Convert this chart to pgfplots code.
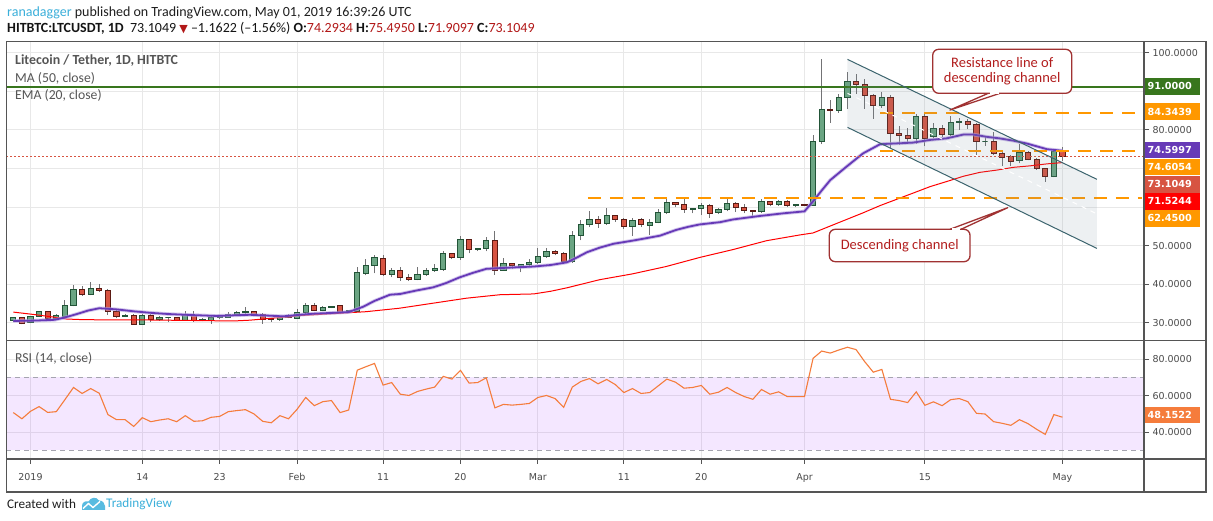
\documentclass[border=0pt]{standalone}
\usepackage{fontspec}
\setmainfont{Carlito}
\newfontfamily\numfont{DejaVu Sans}
\newfontfamily\symfont{DejaVu Sans}
\usepackage{pgfplots}
\pgfplotsset{compat=1.18}
\usepackage{pgfplotstable}

\definecolor{upfill}{RGB}{107,165,131}
\definecolor{upline}{RGB}{34,84,55}
\definecolor{dnfill}{RGB}{215,84,66}
\definecolor{dnline}{RGB}{91,26,19}
\definecolor{wick}{RGB}{115,115,117}
\definecolor{gridc}{RGB}{232,232,232}
\definecolor{framec}{RGB}{85,85,85}
\definecolor{emac}{RGB}{103,58,183}
\definecolor{emahalo}{RGB}{180,160,225}
\definecolor{mac}{RGB}{255,0,0}
\definecolor{hgreen}{RGB}{56,118,29}
\definecolor{dorange}{RGB}{255,152,0}
\definecolor{lastc}{RGB}{215,84,66}
\definecolor{rsic}{RGB}{245,124,60}
\definecolor{band}{RGB}{153,21,255}
\definecolor{chan}{RGB}{60,100,110}
\definecolor{chanfill}{RGB}{120,144,156}
\definecolor{callc}{RGB}{160,50,50}
\definecolor{calltext}{RGB}{178,30,30}
\definecolor{tvblue}{RGB}{59,175,218}
\definecolor{txtgray}{RGB}{74,74,74}
\definecolor{leggray}{RGB}{85,85,85}
\definecolor{hdrred}{RGB}{178,24,24}
\definecolor{dashgray}{RGB}{165,165,175}

\newcommand{\legfont}{\fontsize{13.7}{15}\selectfont}
\newcommand{\callfont}{\fontsize{14.5}{15}\selectfont}
\newcommand{\boxfont}{\numfont\bfseries\fontsize{9.7}{12}\selectfont}
\newcommand{\tickfont}{\numfont\fontsize{9.5}{12}\selectfont}

\newcommand{\valbox}[3]{\fill[#1] (1144.5,{521-#2-8.3}) rectangle (1199.5,{521-#2+8.3});
  \node[anchor=west,inner sep=0,text=white,font=\boxfont] at (1147.5,{521-#2}) {#3};}

\pgfplotstableread{
k O H L C
0 30.5 31.6 30.3 31.3
1 31.3 31.4 29.6 29.9
2 30.0 31.8 29.9 31.6
3 31.6 33.2 31.5 32.9
4 32.9 33.0 31.0 31.2
5 31.2 32.3 31.0 31.9
6 31.7 36.0 31.5 34.4
7 34.4 39.9 34.3 38.6
8 38.6 39.5 37.0 37.3
9 37.3 40.7 37.1 38.8
10 38.8 40.0 38.0 38.3
11 38.3 38.8 32.0 32.9
12 32.9 33.5 31.2 31.6
13 31.6 32.3 31.5 31.8
14 31.8 32.3 29.6 29.7
15 29.7 32.4 29.5 31.8
16 31.8 32.2 30.3 30.8
17 30.8 31.8 30.5 31.3
18 31.3 31.5 30.2 31.3
19 31.3 31.5 30.5 30.7
20 30.7 33.0 30.5 32.1
21 32.0 33.2 30.3 30.5
22 30.6 31.3 30.4 31.0
23 30.7 31.8 29.8 31.4
24 31.3 32.0 31.1 31.8
25 31.5 32.8 31.3 32.3
26 32.2 33.1 32.0 32.7
27 32.6 34.0 32.4 32.9
28 32.9 33.2 31.8 32.0
29 32.1 32.5 29.8 30.8
30 31.1 31.3 30.2 30.8
31 30.8 31.9 30.5 31.6
32 31.6 32.3 31.2 31.4
33 31.2 33.6 31.0 32.6
34 32.6 35.2 32.3 34.4
35 34.4 35.2 33.0 33.3
36 33.3 34.5 33.0 34.1
37 34.0 34.4 33.8 34.2
38 34.4 34.6 32.4 32.6
39 32.7 33.4 32.5 33.2
40 33.0 44.6 32.8 43.0
41 42.9 46.6 42.3 44.8
42 44.8 47.6 42.8 46.9
43 46.7 47.5 42.1 42.6
44 42.6 44.3 41.8 43.7
45 43.7 44.6 40.9 41.7
46 41.7 42.7 40.8 41.2
47 41.2 44.6 41.0 42.5
48 42.5 44.3 42.2 43.6
49 43.6 45.2 43.2 44.1
50 43.9 48.6 43.5 47.9
51 47.9 48.2 46.5 47.0
52 47.0 52.6 46.4 51.5
53 51.5 51.6 48.0 48.9
54 48.9 49.4 48.6 49.2
55 49.2 52.3 48.5 51.3
56 51.3 53.7 42.5 43.7
57 43.7 46.9 43.5 45.3
58 45.3 45.5 44.0 44.8
59 44.7 45.3 43.1 45.0
60 45.0 46.6 44.8 45.6
61 45.6 49.3 45.3 47.1
62 47.1 49.5 46.9 48.5
63 48.5 48.9 47.5 48.0
64 48.0 48.3 45.3 45.8
65 45.8 53.9 45.6 52.6
66 52.6 56.7 51.4 55.4
67 55.4 59.0 54.8 56.7
68 56.7 57.7 54.6 55.7
69 55.7 59.7 55.4 57.8
70 57.8 58.0 56.2 56.7
71 56.7 57.3 54.3 54.9
72 54.9 57.1 52.5 56.4
73 56.7 57.3 54.8 55.4
74 55.2 57.0 52.9 56.0
75 56.0 59.5 55.8 58.5
76 58.5 62.0 58.2 61.1
77 61.1 61.3 59.9 60.6
78 60.6 62.7 58.5 59.3
79 59.3 59.8 58.4 59.6
80 59.6 61.0 57.9 60.4
81 60.4 60.8 57.2 58.4
82 58.5 59.8 58.2 59.3
83 59.3 62.0 58.9 60.9
84 60.9 61.2 58.7 59.8
85 59.8 60.9 58.4 59.0
86 59.0 59.2 57.3 58.8
87 58.8 62.0 58.5 61.4
88 61.4 61.6 60.2 60.6
89 60.6 61.8 60.3 61.4
90 61.4 61.8 59.9 60.3
91 60.3 60.9 60.0 60.6
92 60.6 60.7 60.2 60.5
93 60.5 78.8 60.3 77.1
94 77.1 98.4 76.3 85.4
95 85.4 87.8 81.9 84.9
96 84.9 89.3 84.5 88.4
97 88.4 95.0 85.5 92.6
98 92.6 94.5 89.3 91.8
99 91.8 93.1 85.5 88.9
100 88.8 89.3 82.9 86.3
101 86.3 89.9 85.8 88.4
102 88.4 89.0 75.2 79.1
103 79.1 80.9 76.2 78.6
104 78.6 80.5 76.6 77.7
105 77.7 84.2 76.3 83.5
106 83.5 84.6 75.7 77.7
107 78.2 81.7 77.9 80.4
108 80.4 81.2 78.2 78.8
109 78.8 83.6 78.5 82.0
110 82.0 83.0 80.0 82.2
111 82.2 82.8 80.2 81.5
112 81.5 81.8 73.5 76.9
113 76.9 78.5 75.9 76.9
114 76.9 79.4 73.5 73.9
115 73.9 74.6 70.6 72.9
116 73.1 73.5 70.6 71.7
117 72.1 76.4 71.3 74.2
118 74.1 74.6 72.1 72.4
119 72.4 72.7 69.7 70.0
120 70.0 70.1 66.6 67.9
121 67.9 74.7 67.7 74.4
122 74.2934 75.4950 71.9097 73.1049
}\candles

\begin{document}
\begin{tikzpicture}
\useasboundingbox (0pt,0pt) rectangle (1213pt,521pt);
\fill[white] (0pt,0pt) rectangle (1213pt,521pt);

% ---------------- price panel ----------------
\begin{axis}[
  at={(6.3pt,479.3pt)}, anchor=north west, scale only axis,
  width=1137.7pt, height=299pt,
  xmin=-0.814, xmax=131.48, ymin=25.39, ymax=102.85,
  axis line style={draw=none},
  xtick={2,15,24,33,43,52,61,71,80,92,106,122}, xticklabels={},
  xtick style={draw=none},
  ytick={30,40,50,60,70,80,90,100},
  yticklabels={30.0000,40.0000,50.0000,{},{},80.0000,{},100.0000},
  ytick pos=right, yticklabel pos=right, tick align=outside, major tick length=5pt,
  ytick style={draw=framec, line width=1pt},
  grid=major, major grid style={draw=gridc, line width=1pt},
  yticklabel style={font=\tickfont, text=txtgray},
]
% candles
\pgfplotsinvokeforeach{0,...,122}{%
  \pgfplotstablegetelem{#1}{O}\of\candles\edef\cO{\pgfplotsretval}%
  \pgfplotstablegetelem{#1}{H}\of\candles\edef\cH{\pgfplotsretval}%
  \pgfplotstablegetelem{#1}{L}\of\candles\edef\cL{\pgfplotsretval}%
  \pgfplotstablegetelem{#1}{C}\of\candles\edef\cC{\pgfplotsretval}%
  \pgfmathsetmacro\xa{#1-0.31}%
  \pgfmathsetmacro\xb{#1+0.31}%
  \ifdim\cC pt<\cO pt\def\cf{dnfill}\def\cl{dnline}\else\def\cf{upfill}\def\cl{upline}\fi
  \edef\temp{\noexpand\addplot[draw=wick, line width=1pt, forget plot] coordinates {(#1,\cL) (#1,\cH)};%
    \noexpand\addplot[fill=\cf, draw=\cl, line width=1pt, forget plot] coordinates {(\xa,\cO) (\xb,\cO) (\xb,\cC) (\xa,\cC)} --cycle;}%
  \temp
}

% MA (red)
\addplot[mac, line width=1pt, forget plot] coordinates {
(0,32.8) (2.3,32.2) (4.7,31.5) (6.2,31.0) (8,30.85) (10,30.8) (14,30.8) (17.8,30.7) (21.7,30.6) (25.6,30.5) (27.5,30.7) (29.5,31.1) (31.5,31.5) (33.3,31.9) (37.2,32.4) (41,32.9) (44.9,33.8) (48.8,35.1) (52.7,36.4) (56.6,37.3) (60.5,37.5) (62.5,38.2) (64.4,39.1) (68.2,41.2) (72,42.7) (75.9,44.6) (79.9,47.0) (83.7,49.0) (87.6,51.3) (91.5,52.8) (93,53.3) (95,55.1) (96.9,56.8) (98.8,58.5) (100.8,60.4) (102.7,62.0) (104.6,63.6) (106.6,65.3) (108.5,66.6) (110.5,68.0) (112.4,69.0) (114.4,69.6) (116.3,70.3) (118.3,70.7) (120.2,71.2) (122,71.5244)};
% EMA (purple)
\addplot[emahalo, line width=3.6pt, opacity=0.6, forget plot] coordinates {
(0,30.5) (2.5,30.6) (4.8,30.8) (6,31.4) (7.4,32.3) (8.7,33.2) (10,33.8) (12,33.5) (14,33.0) (16,32.6) (18,32.3) (20,32.1) (23.6,31.8) (27.5,32.1) (31.4,31.7) (33.3,32.1) (35,32.4) (37.2,32.6) (39,32.8) (40.7,34.2) (42,35.7) (43.8,37.3) (45,37.5) (46.9,38.4) (48.8,39.2) (50.3,40.3) (51.9,41.8) (53.5,43.0) (55,44.0) (56.6,44.2) (58.5,44.4) (60.5,44.6) (62.5,45.0) (64.4,45.7) (65.5,46.9) (66.7,48.3) (68.2,49.5) (69.8,50.5) (72,51.3) (73.5,51.9) (75.2,52.6) (77.1,54.1) (78.5,54.9) (79.8,55.5) (82.2,56.1) (83.7,56.8) (86.8,57.7) (89.6,58.4) (92,58.9) (93,61.5) (94,64.3) (95,67.0) (96.9,70.5) (98.8,73.9) (100.8,76.3) (102.7,76.5) (104.6,76.7) (106.6,77.4) (108.5,77.8) (110.5,78.8) (111.6,78.8) (113.2,78.2) (114.7,77.8) (116.3,77.2) (117.8,76.5) (119.4,75.5) (120.2,75.0) (122,74.5997)};
\addplot[emac, line width=1.8pt, forget plot] coordinates {
(0,30.5) (2.5,30.6) (4.8,30.8) (6,31.4) (7.4,32.3) (8.7,33.2) (10,33.8) (12,33.5) (14,33.0) (16,32.6) (18,32.3) (20,32.1) (23.6,31.8) (27.5,32.1) (31.4,31.7) (33.3,32.1) (35,32.4) (37.2,32.6) (39,32.8) (40.7,34.2) (42,35.7) (43.8,37.3) (45,37.5) (46.9,38.4) (48.8,39.2) (50.3,40.3) (51.9,41.8) (53.5,43.0) (55,44.0) (56.6,44.2) (58.5,44.4) (60.5,44.6) (62.5,45.0) (64.4,45.7) (65.5,46.9) (66.7,48.3) (68.2,49.5) (69.8,50.5) (72,51.3) (73.5,51.9) (75.2,52.6) (77.1,54.1) (78.5,54.9) (79.8,55.5) (82.2,56.1) (83.7,56.8) (86.8,57.7) (89.6,58.4) (92,58.9) (93,61.5) (94,64.3) (95,67.0) (96.9,70.5) (98.8,73.9) (100.8,76.3) (102.7,76.5) (104.6,76.7) (106.6,77.4) (108.5,77.8) (110.5,78.8) (111.6,78.8) (113.2,78.2) (114.7,77.8) (116.3,77.2) (117.8,76.5) (119.4,75.5) (120.2,75.0) (122,74.5997)};

% horizontal levels
\addplot[hgreen, line width=2pt, forget plot] coordinates {(-0.814,91) (131.48,91)};
\addplot[dorange, line width=2pt, dash pattern=on 13pt off 9pt, forget plot] coordinates {(100.8,84.3439) (130.5,84.3439)};
\addplot[dorange, line width=2pt, dash pattern=on 13pt off 9pt, forget plot] coordinates {(100.8,74.6054) (130.5,74.6054)};
\addplot[dorange, line width=2pt, dash pattern=on 13pt off 9pt, forget plot] coordinates {(66.8,62.45) (131.2,62.45)};
\addplot[lastc, line width=1pt, dash pattern=on 2pt off 2pt, forget plot] coordinates {(-0.814,73.1049) (131.48,73.1049)};

% descending channel
\addplot[draw=none, fill=chanfill, fill opacity=0.13, forget plot] coordinates {(97,98.27) (126,67.2) (126,49.3) (97,80.66)} --cycle;
\addplot[chan, line width=1pt, forget plot] coordinates {(97,98.27) (126,67.2)};
\addplot[chan, line width=1pt, forget plot] coordinates {(97,80.66) (126,49.3)};
\addplot[white, line width=1pt, dash pattern=on 5pt off 5pt, forget plot] coordinates {(97,89.47) (126,58.25)};
\end{axis}

% ---------------- RSI panel ----------------
\begin{axis}[
  at={(6.3pt,180.3pt)}, anchor=north west, scale only axis,
  width=1137.7pt, height=118.3pt,
  xmin=-0.814, xmax=131.48, ymin=25.2, ymax=90.2,
  axis line style={draw=none},
  xtick={2,15,24,33,43,52,61,71,80,92,106,122},
  xticklabels={2019,14,23,Feb,11,20,Mar,11,20,Apr,15,May},
  xtick pos=bottom,
  ytick={40,60,80}, yticklabels={40.0000,60.0000,80.0000},
  ytick pos=right, yticklabel pos=right, tick align=outside, major tick length=5pt,
  tick style={draw=framec, line width=1pt},
  grid=major, major grid style={draw=gridc, line width=1pt},
  yticklabel style={font=\tickfont, text=txtgray},
  xticklabel style={font=\tickfont, text=txtgray, yshift=-6pt},
]
\addplot[draw=none, fill=band, fill opacity=0.1, forget plot] coordinates {(-0.814,30) (131.48,30) (131.48,70) (-0.814,70)} --cycle;
\addplot[dashgray, line width=1pt, dash pattern=on 5pt off 4pt, forget plot] coordinates {(-0.814,70) (131.48,70)};
\addplot[dashgray, line width=1pt, dash pattern=on 5pt off 4pt, forget plot] coordinates {(-0.814,30) (131.48,30)};
\addplot[rsic, line width=1.1pt, forget plot] coordinates {
(0,50.7) (1,47.3) (2,51.4) (3,54.0) (4,50.8) (5,51.2) (6,57.8) (7,64.5) (8,61.2) (9,63.9)
(10,61.3) (11,49.6) (12,46.8) (13,46.8) (14,43.1) (15,47.9) (16,45.7) (17,46.6) (18,47.3) (19,45.7)
(20,49.0) (21,45.9) (22,46.2) (23,48.1) (24,48.6) (25,51.2) (26,51.8) (27,52.3) (28,49.9) (29,45.9)
(30,45.1) (31,49.0) (32,47.3) (33,52.5) (34,59.0) (35,54.5) (36,56.7) (37,57.3) (38,50.7) (39,52.1)
(40,74.0) (41,75.9) (42,77.7) (43,65.8) (44,67.2) (45,60.8) (46,60.1) (47,62.3) (48,63.6) (49,64.7)
(50,70.6) (51,69.1) (52,73.9) (53,66.9) (54,67.2) (55,69.8) (56,53.3) (57,55.2) (58,54.8) (59,55.2)
(60,55.7) (61,59.0) (62,60.1) (63,58.4) (64,53.6) (65,64.7) (66,67.8) (67,69.4) (68,66.5) (69,68.9)
(70,66.1) (71,61.7) (72,63.9) (73,61.2) (74,61.7) (75,65.4) (76,69.1) (77,67.4) (78,64.1) (79,64.5)
(80,65.6) (81,60.8) (82,61.9) (83,64.5) (84,61.7) (85,59.5) (86,58.0) (87,63.4) (88,60.8) (89,62.1)
(90,59.5) (91,59.5) (92,59.5) (93,80.5) (94,84.5) (95,83.4) (96,85.1) (97,86.6) (98,85.3) (99,78.7)
(100,72.9) (101,74.4) (102,58.0) (103,57.3) (104,56.2) (105,62.1) (106,54.7) (107,56.6) (108,54.5) (109,57.8)
(110,58.4) (111,56.7) (112,50.3) (113,49.9) (114,45.7) (115,44.8) (116,43.7) (117,46.8) (118,44.6) (119,41.5)
(120,38.7) (121,49.6) (122,48.1522)};
\end{axis}

\begin{scope}[x=1pt,y=1pt]
% ---------------- frame ----------------
\draw[framec, line width=1.2pt] (6.3,29) rectangle (1206,479.3);
\draw[framec, line width=1.2pt] (6.3,180.3) -- (1206,180.3);
\draw[framec, line width=1.2pt] (6.3,62) -- (1206,62);
\draw[framec, line width=1.2pt] (1144,29) -- (1144,479.3);

% ---------------- value boxes ----------------
\valbox{hgreen}{86.3}{91.0000}
\valbox{dorange}{111.7}{84.3439}
\valbox{emac}{150}{74.5997}
\valbox{dorange}{167}{74.6054}
\valbox{lastc}{184.3}{73.1049}
\valbox{mac}{201.3}{71.5244}
\valbox{dorange}{218.3}{62.4500}
\valbox{rsic}{415}{48.1522}

% ---------------- callouts ----------------
\filldraw[fill=white, draw=callc, line width=1.3pt, line join=round] (988.3,427.7) -- (950,411) -- (1000,427.7);
\filldraw[fill=white, draw=callc, line width=1.3pt, rounded corners=6pt] (932.7,427.7) rectangle (1071.7,471.7);
\draw[white, line width=1.7pt] (989.8,427.7) -- (998.5,427.7);
\node[align=center, text=calltext, font=\callfont, inner sep=0] at (1002.2,449.7) {Resistance line of\\descending channel};

\filldraw[fill=white, draw=callc, line width=1.3pt, line join=round] (950,291.7) -- (1007.7,313.3) -- (961,291.7);
\filldraw[fill=white, draw=callc, line width=1.3pt, rounded corners=6pt] (829.3,259.3) rectangle (970,291.7);
\draw[white, line width=1.7pt] (951.5,291.7) -- (959.5,291.7);
\node[text=calltext, font=\callfont, inner sep=0] at (899.7,275.5) {Descending channel};

% ---------------- legend texts ----------------
\node[anchor=west, inner sep=0, font=\fontsize{13.9}{15}\selectfont\bfseries, text=leggray] at (15,460) {Litecoin / Tether, 1D, HITBTC};
\node[anchor=west, inner sep=0, font=\legfont, text=leggray] at (15,443) {MA (50, close)};
\node[anchor=west, inner sep=0, font=\legfont, text=leggray] at (15,426) {EMA (20, close)};
\node[anchor=west, inner sep=0, font=\legfont, text=leggray] at (15,162.7) {RSI (14, close)};

% ---------------- header ----------------
\node[anchor=west, inner sep=0, font=\fontsize{14}{15}\selectfont, text=black!88] at (7,508) {\textcolor{tvblue}{ranadagger} published on TradingView.com, May 01, 2019 16:39:26 UTC};
\node[anchor=west, inner sep=0, font=\fontsize{14}{15}\selectfont, text=black!92] at (7,492.5) {\textbf{HITBTC:LTCUSDT, 1D}\ \ 73.1049 {\symfont\fontsize{11}{12}\selectfont\textcolor{hdrred}{▼}} –1.1622 (–1.56\%) \textbf{O:}\textcolor{hdrred}{74.2934} \textbf{H:}\textcolor{hdrred}{75.4950} \textbf{L:}\textcolor{hdrred}{71.9097} \textbf{C:}\textcolor{hdrred}{73.1049}};

% ---------------- footer ----------------
\node[anchor=west, inner sep=0, font=\fontsize{13.2}{14}\selectfont, text=black!88] at (7,17.3) {Created with};
\fill[tvblue!85] (82,11) -- (82,15) .. controls (82,18.5) and (85,20.5) .. (88.5,19.5) .. controls (90.5,24) and (97,24.5) .. (99,20.5) .. controls (102.5,20.5) and (105,18) .. (105,15) -- (105,11) -- cycle;
\draw[white, line width=1.4pt] (83,12.5) -- (88.5,17.5) -- (93,13.5) -- (100,19.5);
\node[anchor=west, inner sep=0, font=\fontsize{13.2}{14}\selectfont, text=tvblue] at (106,17.3) {TradingView};
\end{scope}
\end{tikzpicture}
\end{document}
